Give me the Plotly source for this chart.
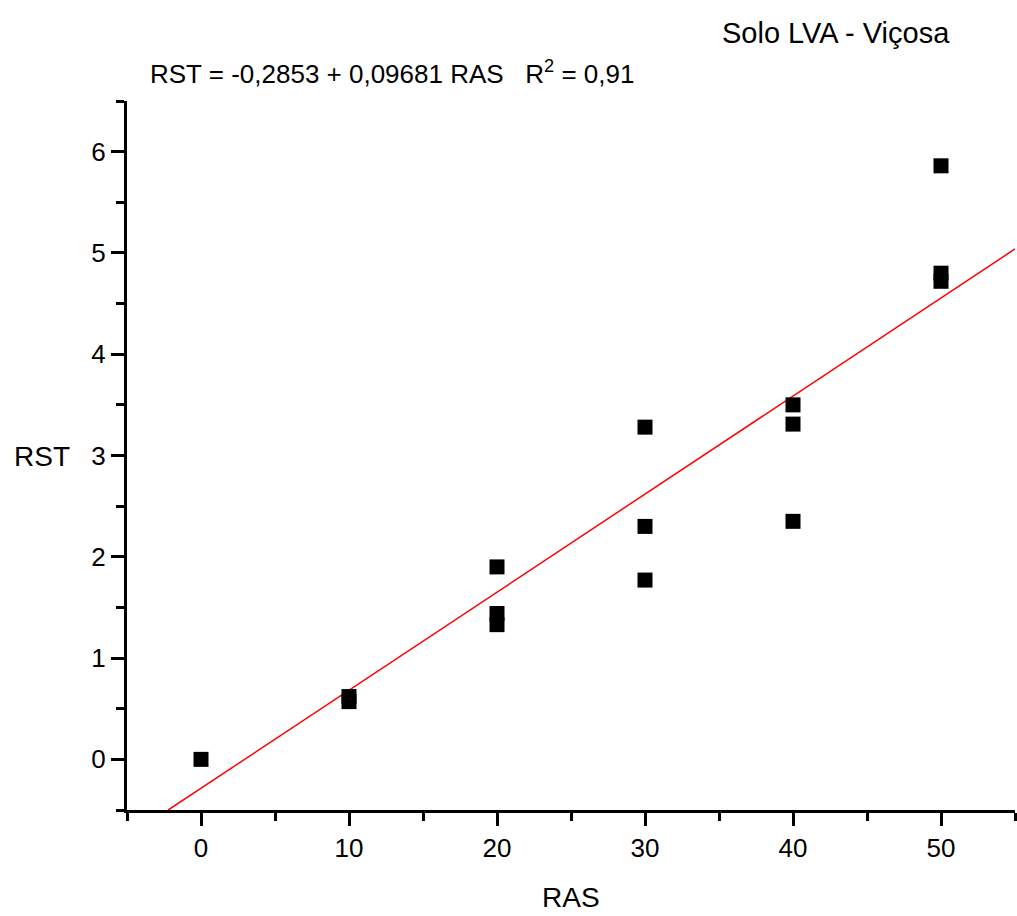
import plotly.graph_objects as go
import numpy as np

ras = [0, 10, 10, 20, 20, 20, 30, 30, 30, 40, 40, 40, 50, 50, 50]
rst = [0.0, 0.62, 0.57, 1.90, 1.44, 1.33, 3.28, 2.30, 1.77, 3.50, 3.31, 2.35, 5.86, 4.80, 4.72]
intercept = -0.2853
slope = 0.09681
fit_x = [(-0.5 - intercept) / slope, 55]
fit_y = [intercept + slope * v for v in fit_x]

FONT = "Liberation Sans, Arial, sans-serif"

fig = go.Figure()
fig.add_trace(go.Scatter(x=fit_x, y=fit_y, mode="lines",
                         line=dict(color="#ff0000", width=1.5), showlegend=False))
fig.add_trace(go.Scatter(x=ras, y=rst, mode="markers",
                         marker=dict(symbol="square", size=15, color="black", line=dict(width=0)),
                         showlegend=False))

axis_common = dict(showline=True, linecolor="black", linewidth=3, ticks="outside",
                   tickwidth=3, tickcolor="black", ticklen=13, showgrid=False, zeroline=False,
                   tickfont=dict(family=FONT, size=26, color="black"))
fig.update_xaxes(range=[-5, 55], tick0=0, dtick=10,
                 minor=dict(dtick=5, tick0=0, ticks="outside", ticklen=8, tickwidth=3, tickcolor="black"),
                 **axis_common)
fig.update_yaxes(range=[-0.5, 6.5], tick0=0, dtick=1,
                 minor=dict(dtick=0.5, tick0=0, ticks="outside", ticklen=8, tickwidth=3, tickcolor="black"),
                 **axis_common)

ann_font = dict(family=FONT, size=26, color="black")
fig.update_layout(
    width=1017, height=916,
    margin=dict(l=127, r=2, t=101, b=106),
    plot_bgcolor="white", paper_bgcolor="white",
    annotations=[
        dict(text="Solo LVA - Viçosa", xref="paper", yref="paper", x=0.798, y=1.096,
             xanchor="center", yanchor="middle", showarrow=False,
             font=dict(family=FONT, size=29, color="black")),
        dict(text="RST = -0,2853 + 0,09681 RAS   R<sup>2</sup> = 0,91", xref="paper", yref="paper",
             x=0.0236, y=1.0395, xanchor="left", yanchor="middle", showarrow=False, font=ann_font),
        dict(text="RST", xref="paper", yref="paper", x=-0.0957, y=0.498,
             xanchor="center", yanchor="middle", showarrow=False,
             font=dict(family=FONT, size=28, color="black")),
        dict(text="RAS", xref="paper", yref="paper", x=0.5, y=-0.124,
             xanchor="center", yanchor="middle", showarrow=False,
             font=dict(family=FONT, size=28, color="black")),
    ],
)
fig.write_html("out.html")
